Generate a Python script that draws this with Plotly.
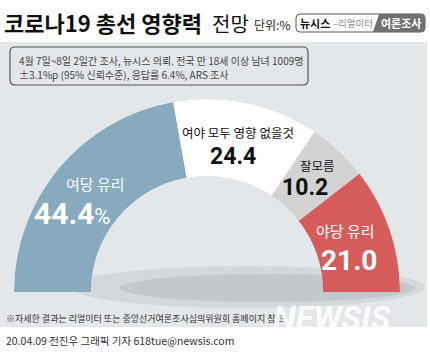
import plotly.graph_objects as go

# ---- data ----
categories = ["여당 유리", "여야 모두 영향 없을것", "잘모름", "야당 유리"]
values = [44.4, 24.4, 10.2, 21.0]
colors = ["#87aabe", "#ffffff", "#d3d3d3", "#d65c5c"]

FONT = "Noto Sans CJK KR"
NUMF = "Roboto"
W, H = 430, 352

# angular positions from data (semicircle = 180 degrees)
total = sum(values)
widths = [v / total * 180 for v in values]
thetas = []
acc = 0
for w in widths:
    thetas.append(acc + w / 2)
    acc += w

fig = go.Figure()
fig.add_trace(go.Barpolar(
    r=[1] * len(values), theta=thetas, width=widths,
    marker=dict(color=colors, line=dict(width=0)),
    text=categories, hoverinfo="text", showlegend=False,
))

# hidden pixel-space cartesian axes for decorations / text
fig.add_trace(go.Scatter(x=[0], y=[0], mode="markers", marker=dict(opacity=0), showlegend=False, hoverinfo="skip"))

cx0, cx1 = 14, 400
cy_bottom = 292
R = (cx1 - cx0) / 2
fig.update_layout(
    width=W, height=H, margin=dict(l=0, r=0, t=0, b=0),
    paper_bgcolor="white", plot_bgcolor="white",
    xaxis=dict(range=[0, W], visible=False, domain=[0, 1], fixedrange=True),
    yaxis=dict(range=[H, 0], visible=False, domain=[0, 1], fixedrange=True),
    polar=dict(
        domain=dict(x=[cx0 / W, cx1 / W], y=[1 - cy_bottom / H, 1 - (cy_bottom - R) / H]),
        sector=[0, 180], hole=116 / 193, bgcolor="rgba(0,0,0,0)",
        radialaxis=dict(range=[0, 1], visible=False),
        angularaxis=dict(rotation=180, direction="clockwise", visible=False),
    ),
    showlegend=False,
)

def rrect(x0, y0, x1, y1, r):
    return (f"M{x0+r},{y0} L{x1-r},{y0} Q{x1},{y0} {x1},{y0+r} L{x1},{y1-r} Q{x1},{y1} {x1-r},{y1} "
            f"L{x0+r},{y1} Q{x0},{y1} {x0},{y1-r} L{x0},{y0+r} Q{x0},{y0} {x0+r},{y0} Z")

shapes = [
    dict(type="rect", x0=0, x1=427, y0=42, y1=327, fillcolor="#e3e7ea", line=dict(width=0), layer="below"),
    dict(type="circle", x0=70, x1=425, y0=266, y1=308, fillcolor="rgba(110,115,120,0.13)", line=dict(width=0), layer="below"),
    dict(type="circle", x0=120, x1=415, y0=274, y1=302, fillcolor="rgba(110,115,120,0.15)", line=dict(width=0), layer="below"),
    dict(type="path", path=rrect(10, 47, 308, 85, 5), line=dict(color="#555555", width=1.2), fillcolor="rgba(0,0,0,0)", layer="below"),
    # badge
    dict(type="path", path=rrect(296, 14, 425, 32, 4), line=dict(color="#555555", width=1), fillcolor="white", layer="below"),
    dict(type="path", path="M379,14 L421,14 Q425,14 425,18 L425,28 Q425,32 421,32 L373,32 Z",
         line=dict(width=0), fillcolor="#707070", layer="below"),
]
fig.update_layout(shapes=shapes)

ann = []
def t(x, y, text, size, color="#222", family=FONT, xanchor="center", weight=None, style=None, opacity=1):
    f = dict(family=family, size=size, color=color)
    if weight:
        f["weight"] = weight
    if style:
        f["style"] = style
    ann.append(dict(x=x, y=y, xref="x", yref="y", text=text, showarrow=False, font=f,
                    xanchor=xanchor, yanchor="middle", opacity=opacity))

# title area
t(2, 22, "<b>코로나19 총선 영향력</b>", 22, color="#111", xanchor="left")
t(210, 23, "전망", 20, color="#111", xanchor="left")
t(252, 24, "단위:%", 12, color="#222", xanchor="left")
t(298, 23, "<b>뉴시스</b>", 11, color="#111", xanchor="left")
t(331, 23, "–리얼미터", 9.5, color="#8a8a8a", xanchor="left")
t(401, 23, "<b>여론조사</b>", 11, color="white")

# info box
t(17, 60, "4월 7일~8일 2일간 조사, 뉴시스 의뢰. 전국 만 18세 이상 남녀 1009명", 10, color="#444", xanchor="left")
t(17, 74, "±3.1%p (95% 신뢰수준), 응답률 6.4%, ARS 조사", 10, color="#444", xanchor="left")

# segment labels
label_pos = [(95, 183), (238, 132), (317, 165), (345, 230)]
value_pos = [(72, 213), (233, 156), (305, 187), (349, 260)]
label_size = [15, 12.5, 12.5, 15]
value_size = [30, 23, 23, 28]
label_col = ["white", "#111", "#111", "white"]
for i, (cat, v) in enumerate(zip(categories, values)):
    t(label_pos[i][0], label_pos[i][1], cat, label_size[i], color=label_col[i])
    vt = f"{v:.1f}"
    if i == 0:
        vt = f"{v:.1f}<span style='font-size:22px;font-weight:normal'>%</span>"
    t(value_pos[i][0], value_pos[i][1], f"<b>{vt}</b>", value_size[i], color=label_col[i], family=NUMF)

# footer
t(4, 318, "※자세한 결과는 리얼미터 또는 중앙선거여론조사심의위원회 홈페이지 참조", 9, color="#333", xanchor="left")
t(4, 340, "20.04.09 전진우 그래픽 기자 618tue@newsis.com", 10.5, color="#333", xanchor="left")
t(332, 318, "<b>NEWSIS</b>", 33, color="white", family=NUMF, style="italic", weight=900, opacity=0.85)

fig.update_layout(annotations=ann)
fig.write_html("out.html")
